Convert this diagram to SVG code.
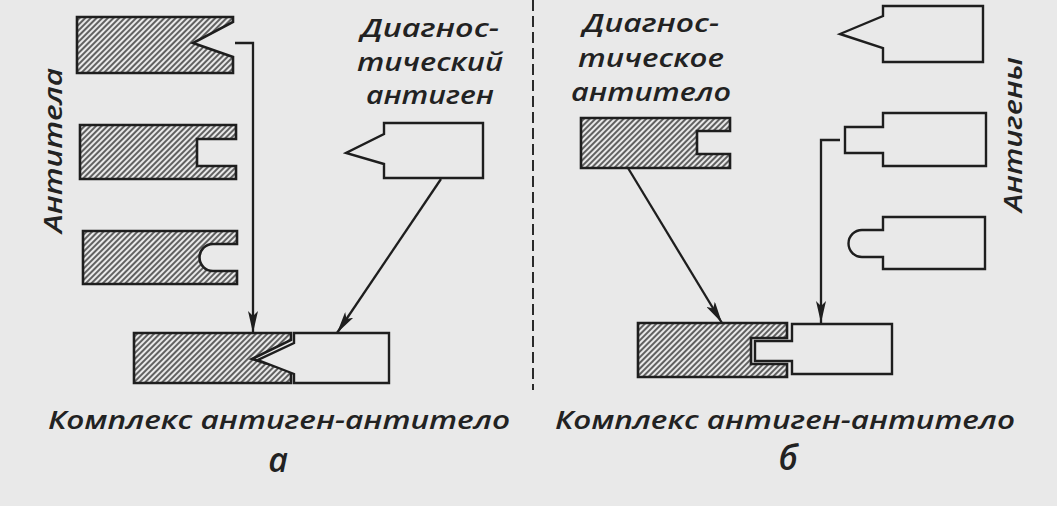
<svg xmlns="http://www.w3.org/2000/svg" width="1057" height="506" viewBox="0 0 1057 506">
<defs>
<pattern id="hatch" patternUnits="userSpaceOnUse" width="4" height="10" patternTransform="rotate(45)">
<rect width="4" height="10" fill="#e9e9e9"/>
<line x1="1" y1="0" x2="1" y2="10" stroke="#333" stroke-width="1.5"/>
</pattern>
<marker id="arr" markerUnits="userSpaceOnUse" markerWidth="24" markerHeight="10" refX="22" refY="5" orient="auto">
<path d="M0,0 L22,5 L0,10 L5,5 Z" fill="#1e1e1e"/>
</marker>
<style>
.ab{fill:url(#hatch);stroke:#1e1e1e;stroke-width:2.6;stroke-linejoin:miter}
.ag{fill:#e9e9e9;stroke:#1e1e1e;stroke-width:2.4;stroke-linejoin:miter}
.con{fill:none;stroke:#1e1e1e;stroke-width:2.3;marker-end:url(#arr)}
.t{font-family:"Open Sans","Noto Sans","DejaVu Sans",sans-serif;font-style:italic;font-weight:600;font-size:26px;fill:#222}
.big{font-size:34px}
</style>
</defs>
<rect width="1057" height="506" fill="#e9e9e9"/>

<g id="divider">
<line x1="533" y1="0" x2="533" y2="390" stroke="#2a2a2a" stroke-width="2" stroke-dasharray="11 5"/>
</g>

<g id="connectors">
<path class="con" d="M235,43 H253 V333"/>
<path class="con" d="M441,179 L337,333"/>
<path class="con" d="M628,168 L722,323"/>
<path class="con" d="M840,140 H821 V323"/>
</g>

<g id="antibody-v">
<path class="ab" d="M77,17 H233 V22 L193,43 L233,57 V73 H77 Z"/>
</g>
<g id="antibody-rect">
<path class="ab" d="M80,125 H236 V139 H197 V166 H236 V179 H80 Z"/>
</g>
<g id="antibody-round">
<path class="ab" d="M83,231 H237 V244 H213 A13.5,13.5 0 0 0 213,271 H237 V284 H83 Z"/>
</g>
<g id="label-antitela">
<text class="t" transform="translate(62,233) rotate(-90)" textLength="165" lengthAdjust="spacingAndGlyphs">Антитела</text>
</g>

<g id="diag-antigen">
<path class="ag" d="M384,123 H483 V178 H384 V164 L346,153 L384,134 Z"/>
<text class="t" x="361" y="37" textLength="138" lengthAdjust="spacingAndGlyphs">Диагнос-</text>
<text class="t" x="357" y="71" textLength="146" lengthAdjust="spacingAndGlyphs">тический</text>
<text class="t" x="366" y="104" textLength="128" lengthAdjust="spacingAndGlyphs">антиген</text>
</g>

<g id="complex-a">
<path class="ab" d="M134,333 H291 V340 L252,359 L291,371 V383 H134 Z"/>
<path class="ag" d="M294,333 H389 V383 H294 V374 L258,360 L294,343 Z"/>
<text class="t" x="48" y="429" textLength="462" lengthAdjust="spacingAndGlyphs">Комплекс антиген-антитело</text>
<text class="t big" x="278" y="472" text-anchor="middle">а</text>
</g>

<g id="diag-antibody">
<path class="ab" d="M581,118 H730 V131 H697 V154 H730 V168 H581 Z"/>
<text class="t" x="583" y="32" textLength="136" lengthAdjust="spacingAndGlyphs">Диагнос-</text>
<text class="t" x="578" y="67" textLength="146" lengthAdjust="spacingAndGlyphs">тическое</text>
<text class="t" x="571" y="101" textLength="160" lengthAdjust="spacingAndGlyphs">антитело</text>
</g>

<g id="antigen-v">
<path class="ag" d="M883,6 H983 V62 H883 V48 L840,34 L883,16 Z"/>
</g>
<g id="antigen-rect">
<path class="ag" d="M883,113 H986 V166 H883 V153 H845 V127 H883 Z"/>
</g>
<g id="antigen-round">
<path class="ag" d="M883,217 H985 V269 H883 V257 H862 A13.5,13.5 0 0 1 862,230 H883 Z"/>
</g>
<g id="label-antigeny">
<text class="t" transform="translate(1022,212) rotate(-90)" textLength="155" lengthAdjust="spacingAndGlyphs">Антигены</text>
</g>

<g id="complex-b">
<path class="ab" d="M638,323 H787 V338 H751 V364 H787 V377 H638 Z"/>
<path class="ag" d="M792,324 H892 V374 H792 V361 H755 V341 H792 Z"/>
<text class="t" x="555" y="429" textLength="460" lengthAdjust="spacingAndGlyphs">Комплекс антиген-антитело</text>
<text class="t big" x="788" y="470" text-anchor="middle">б</text>
</g>
</svg>
